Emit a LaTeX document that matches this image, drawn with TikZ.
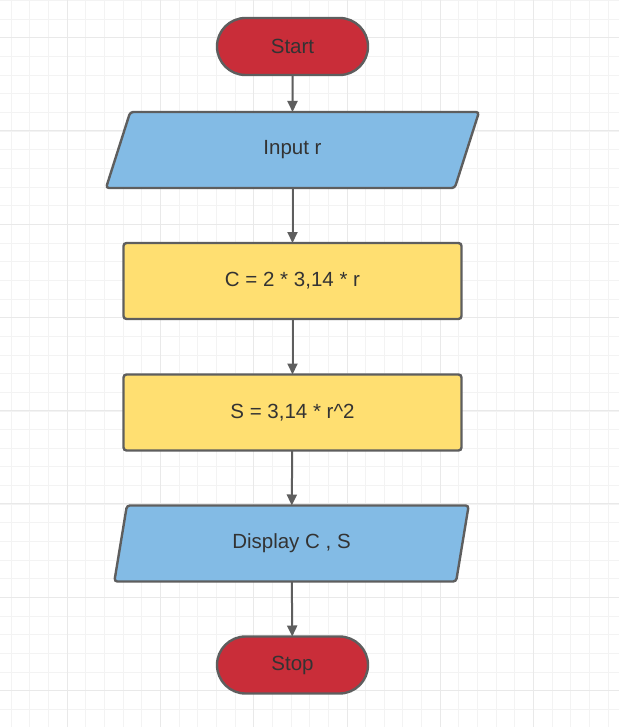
\documentclass[tikz,border=0pt]{standalone}
\usepackage{fontspec}
\setmainfont{Liberation Sans}
\usetikzlibrary{shapes.geometric,shapes.misc,arrows.meta}
\definecolor{termred}{HTML}{C92D39}
\definecolor{ioblue}{HTML}{83BBE5}
\definecolor{procyellow}{HTML}{FFDF71}
\definecolor{edgegray}{HTML}{5E5E5E}
\definecolor{txtgray}{HTML}{333333}
\definecolor{gridminor}{HTML}{F3F3F3}
\definecolor{gridmajor}{HTML}{E9E9E9}
\tikzset{
  base/.style={draw=edgegray, line width=2.4pt, text=txtgray, font=\fontsize{20.5}{23}\selectfont, inner sep=0pt, outer sep=0pt},
  termbox/.style={base, fill=termred, rounded rectangle, minimum width=151pt, minimum height=57pt},
  iobox/.style={base, fill=ioblue, trapezium, trapezium left angle=76.7, trapezium right angle=103.3, trapezium stretches=true, minimum width=375pt, minimum height=76pt, rounded corners=3pt},
  procbox/.style={base, fill=procyellow, rectangle, rounded corners=3pt, minimum width=338pt, minimum height=76pt},
  flow/.style={draw=edgegray, line width=2pt, -{Triangle[length=11pt,width=10pt]}},
}
\begin{document}
\begin{tikzpicture}[x=1pt,y=-1pt]
\useasboundingbox (0,0) rectangle (619,727);
\fill[white] (0,0) rectangle (619,727);
% grid
\foreach \i in {0,...,34} {
  \pgfmathsetmacro{\gx}{11.3+18.65*\i}
  \draw[gridminor, line width=1pt] (\gx,0) -- (\gx,727);
}
\foreach \i in {0,...,40} {
  \pgfmathsetmacro{\gy}{0.7+18.65*\i}
  \draw[gridminor, line width=1pt] (0,\gy) -- (619,\gy);
}
\foreach \i in {-1,...,6} {
  \pgfmathsetmacro{\gx}{67.25+93.25*\i}
  \draw[gridmajor, line width=1pt] (\gx,0) -- (\gx,727);
}
\foreach \i in {0,...,8} {
  \pgfmathsetmacro{\gy}{37.7+93.25*\i}
  \draw[gridmajor, line width=1pt] (0,\gy) -- (619,\gy);
}
% nodes
\node[termbox] (start) at (292.5,46.5) {Start};
\node[iobox] (input) at (292.5,150) {Input r};
\node[procbox] (calcc) at (292.5,281) {C = 2 * 3,14 * r};
\node[procbox] (calcs) at (292.5,412.5) {S = 3,14 * r\^{}2};
\node[iobox, minimum width=355pt] (disp) at (291.5,543.5) {Display C , S};
\node[termbox] (stop) at (292.5,665) {Stop};
% connectors
\draw[flow] (start) -- (input);
\draw[flow] (input) -- (calcc);
\draw[flow] (calcc) -- (calcs);
\draw[flow] (calcs) -- (disp);
\draw[flow] (disp) -- (stop);
\end{tikzpicture}
\end{document}
